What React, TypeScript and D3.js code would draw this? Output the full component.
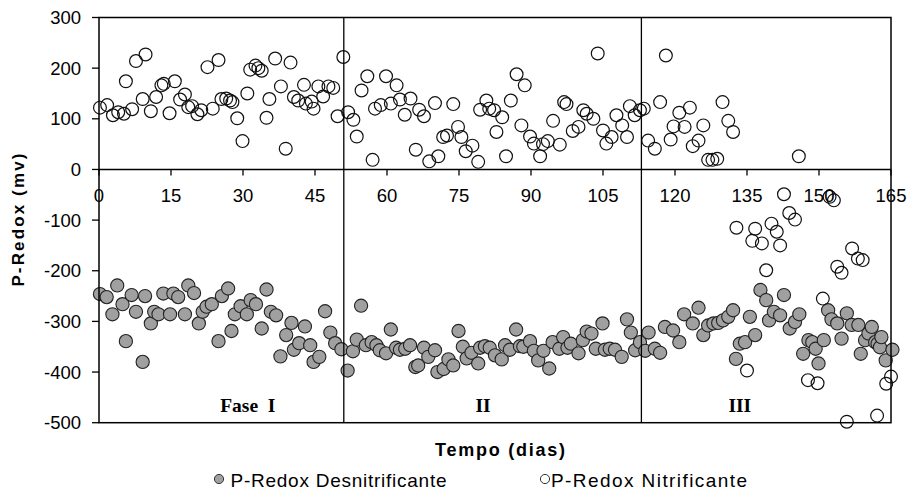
import React from "react";
import * as d3 from "d3";

const desDays = [0.2,1.6,2.8,3.8,4.9,5.6,6.8,7.7,9.1,9.6,10.8,11.5,12.4,13.4,14.8,15.5,16.5,17.9,18.6,19.8,20.8,21.6,22.4,23.5,24.9,25.6,26.9,27.6,28.3,29.5,30.8,31.6,32.7,33.9,34.9,35.8,36.9,37.8,39,40.1,40.6,41.7,42.9,44,44.7,45.9,47.1,48.2,49.2,50.5,51.8,52.9,53.7,54.6,55.6,56.8,57.8,58.5,59.8,60.8,61.9,62.7,63.8,64.8,65.9,66.5,67.7,68.6,70,70.5,71.8,72.8,73.8,74.9,75.8,76.6,77.6,79,79.4,80.4,81.4,82.5,83.9,84.6,85.6,86.9,87.7,88.4,89.8,90.6,91.5,92.6,93.8,94.5,95.9,96.7,97.6,98.3,99.9,100.8,101.6,102.6,103.5,104.9,105.4,106.4,107.5,108.9,110,110.8,111.7,112.7,113.8,114.5,115.8,116.9,117.9,119.6,120.9,121.9,123.7,124.9,125.9,126.9,128,129,130,131.1,132.1,132.7,133.5,134.6,135.6,136.7,137.8,139,139.6,140.6,141.9,142.7,143.9,145,145.9,146.7,147.8,148.6,149.3,149.9,151,151.9,152.6,153.8,154.7,155.8,156.8,158.2,158.7,159.6,160.3,161,161.7,162.2,162.7,163,163.9,165.3];
const desValues = [-246,-252,-286,-229,-266,-339,-248,-281,-380,-250,-304,-281,-286,-245,-286,-245,-252,-286,-229,-244,-304,-281,-271,-266,-339,-250,-235,-319,-286,-270,-286,-258,-266,-314,-237,-281,-288,-369,-327,-303,-356,-343,-310,-347,-380,-370,-280,-322,-343,-355,-397,-359,-336,-269,-347,-341,-347,-357,-363,-316,-352,-356,-354,-347,-390,-387,-352,-370,-357,-400,-394,-375,-387,-319,-350,-373,-362,-383,-352,-349,-352,-367,-375,-347,-356,-316,-349,-350,-339,-358,-377,-358,-393,-341,-354,-331,-352,-344,-363,-337,-320,-324,-354,-304,-356,-354,-356,-370,-296,-322,-357,-341,-358,-322,-354,-362,-311,-318,-341,-286,-304,-273,-327,-308,-304,-303,-298,-291,-278,-374,-344,-341,-291,-327,-238,-258,-298,-281,-288,-248,-314,-301,-286,-364,-337,-341,-354,-383,-337,-278,-296,-304,-334,-284,-307,-307,-364,-337,-324,-311,-341,-344,-351,-331,-377,-356];

const nitDays = [0.2,1.7,2.9,4,5.2,5.6,6.9,7.7,9.1,9.7,10.8,11.9,13,13.5,14.7,15.8,16.9,17.9,18.6,19.4,20.5,21.3,22.6,23.7,24.9,25.5,26.5,27.3,27.8,28.8,29.9,30.9,31.5,32.6,33.2,33.9,34.9,35.5,36.7,37.9,38.9,39.9,40.6,41.5,42.7,43.1,44.3,44.7,45.7,46.7,47.8,48.8,49.7,50.9,51.9,53,53.7,54.7,55.9,57,57.5,58.7,59.8,60.8,62,62.7,63.7,64.9,66,66.7,67.7,68.8,70,70.7,71.7,72.5,73.8,74.8,75.5,76.4,77.8,79,79.4,80.7,81.3,82.3,82.8,84,84.8,85.8,87,88,88.7,89.8,90.6,91.9,92.5,93.5,94.6,96,96.9,97.4,98.7,99.9,100.9,101.6,103,103.9,105,105.7,106.8,107.8,109,110,110.6,111.6,112.7,113.5,114.4,115.8,116.9,118.1,119.1,119.7,120.9,122,123.1,123.7,124.9,125.9,126.9,127.8,128.8,129.9,131.1,132.1,145.8,132.8,136.7,136.1,138.1,140.1,141.2,141.9,142.7,143.8,145,139,135,150.8,152.2,153.1,147.7,149.7,153.8,154.7,156.9,158.1,159.1,155.8,162.1,164,165];
const nitValues = [122,127,107,113,110,174,119,214,139,227,115,143,166,169,111,174,138,148,123,125,109,117,202,120,216,139,140,136,133,101,56,150,197,205,200,195,102,139,219,164,41,211,143,136,167,130,134,120,164,144,164,161,105,222,113,98,65,156,184,19,120,127,184,130,166,138,108,140,39,118,105,16,131,26,64,67,129,84,64,36,47,15,118,136,120,117,74,103,26,136,188,87,166,65,51,26,50,56,96,49,133,129,76,84,117,110,100,229,77,51,64,107,87,64,125,107,117,120,57,41,133,225,59,85,112,84,122,46,57,87,19,19,21,133,96,74,26,-115,-117,-141,-146,-107,-123,-150,-49,-86,-99,-199,-397,-255,-54,-61,-416,-422,-192,-204,-156,-176,-179,-498,-486,-423,-409];

const xTicks = [0, 15, 30, 45, 60, 75, 90, 105, 120, 135, 150, 165];
const yTicks = [300, 200, 100, 0, -100, -200, -300, -400, -500];
const phaseBounds = [51, 113];
const phaseLabels = ["Fase  I", "II", "III"];
const phaseLabelDays = [31, 80, 133.5];
const seriesNames = ["P-Redox Desnitrificante", "P-Redox Nitrificante"];

const W = 910, H = 491;
const L = 99, R = 891, T = 17.5, B = 422.7;

export default function App() {
  const x = d3.scaleLinear().domain([0, 165]).range([L, R]);
  const y = d3.scaleLinear().domain([-500, 300]).range([B, T]);
  const sans = "'Liberation Sans', Arial, sans-serif";
  const serif = "'Liberation Serif', 'Times New Roman', serif";
  const y0 = y(0);
  return (
    <svg width={W} height={H} style={{ position: "absolute", left: 0, top: 0, background: "#fff" }}>
      <rect x={0} y={0} width={W} height={H} fill="#fff" />
      {phaseLabels.map((t, i) => (
        <text key={t} x={x(phaseLabelDays[i])} y={412} textAnchor="middle" fontFamily={serif} fontWeight="bold" fontSize={19.5} style={{ whiteSpace: "pre" }}>{t}</text>
      ))}
      {desDays.map((d, i) => (
        <circle key={"d" + i} cx={x(d)} cy={y(desValues[i])} r={6.6} fill="#a0a0a0" stroke="#222" strokeWidth={1.1} />
      ))}
      {nitDays.map((d, i) => (
        <circle key={"n" + i} cx={x(d)} cy={y(nitValues[i])} r={6.4} fill="none" stroke="#111" strokeWidth={1.2} />
      ))}
      <rect x={L} y={T} width={R - L} height={B - T} fill="none" stroke="#000" strokeWidth={1.5} />
      {phaseBounds.map((p) => (
        <line key={p} x1={x(p)} x2={x(p)} y1={T} y2={B} stroke="#000" strokeWidth={1.3} />
      ))}
      <line x1={L} x2={R} y1={y0} y2={y0} stroke="#000" strokeWidth={1.5} />
      {xTicks.map((t) => (
        <g key={"xt" + t}>
          <line x1={x(t)} x2={x(t)} y1={y0} y2={y0 + 6} stroke="#000" strokeWidth={1.3} />
          <text x={x(t)} y={201.5} textAnchor="middle" fontFamily={sans} fontSize={18.5} fill="#000">{t}</text>
        </g>
      ))}
      {yTicks.map((t) => (
        <g key={"yt" + t}>
          <line x1={L - 7} x2={L} y1={y(t)} y2={y(t)} stroke="#000" strokeWidth={1.3} />
          <text x={81} y={y(t) + 6.5} textAnchor="end" fontFamily={sans} fontSize={18.5} fill="#000">{t}</text>
        </g>
      ))}
      <text transform={`translate(24,${(T + B) / 2}) rotate(-90)`} textAnchor="middle" fontFamily={sans} fontWeight="bold" fontSize={17} textLength={133} lengthAdjust="spacing">P-Redox (mv)</text>
      <text x={500} y={455.5} textAnchor="middle" fontFamily={sans} fontWeight="bold" fontSize={18} textLength={130} lengthAdjust="spacing">Tempo (dias)</text>
      <circle cx={219} cy={479} r={4.6} fill="#a0a0a0" stroke="#333" strokeWidth={1} />
      <text x={230.5} y={486.5} fontFamily={sans} fontSize={19} textLength={216} lengthAdjust="spacing">{seriesNames[0]}</text>
      <circle cx={545} cy={479} r={4.6} fill="none" stroke="#333" strokeWidth={1} />
      <text x={551} y={486.5} fontFamily={sans} fontSize={19} textLength={196} lengthAdjust="spacing">{seriesNames[1]}</text>
    </svg>
  );
}
